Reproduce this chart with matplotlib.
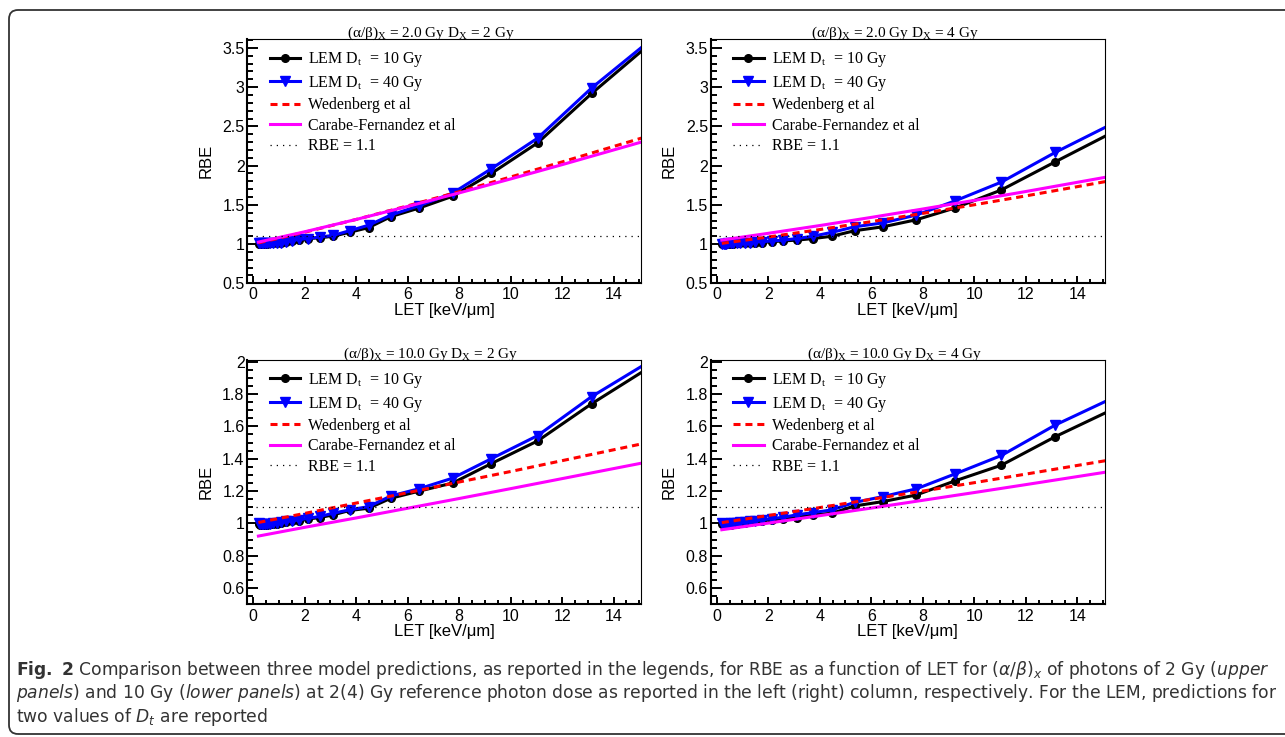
import matplotlib
matplotlib.use("Agg")
import matplotlib.pyplot as plt
from matplotlib.patches import FancyBboxPatch
from matplotlib.transforms import IdentityTransform
from matplotlib.ticker import MultipleLocator, FuncFormatter

# LET grid of the LEM calculations [keV/um]
lem_let = [0.22, 0.27, 0.32, 0.38, 0.45, 0.54, 0.65, 0.77, 0.92, 1.09, 1.29, 1.5, 1.76,
           2.13, 2.58, 3.1, 3.74, 4.48, 5.35, 6.45, 7.75, 9.25, 11.05, 13.15, 15.7]
# LET points for the phenomenological models
model_let = [0.2, 2, 4, 6, 8, 10, 12, 15.1]

# panels: TL, TR, BL, BR
panel_ab = [2.0, 2.0, 10.0, 10.0]
panel_dx = [2, 4, 2, 4]

lem_d10 = [
    [1.00, 1.00, 1.00, 1.00, 1.00, 1.00, 1.01, 1.01, 1.01, 1.02, 1.03, 1.04, 1.05,
     1.07, 1.08, 1.10, 1.15, 1.21, 1.35, 1.46, 1.61, 1.90, 2.29, 2.92, 3.63],
    [1.00, 1.00, 1.00, 1.00, 1.00, 1.00, 1.00, 1.01, 1.01, 1.01, 1.01, 1.02, 1.02,
     1.03, 1.04, 1.05, 1.07, 1.10, 1.17, 1.22, 1.31, 1.46, 1.69, 2.05, 2.48],
    [0.995, 0.993, 0.992, 0.992, 0.992, 0.993, 0.994, 0.996, 0.998, 1.000, 1.008, 1.012, 1.018,
     1.028, 1.036, 1.053, 1.080, 1.094, 1.156, 1.200, 1.250, 1.370, 1.510, 1.740, 1.995],
    [0.995, 0.993, 0.992, 0.992, 0.992, 0.993, 0.995, 0.997, 1.000, 1.003, 1.008, 1.012, 1.016,
     1.022, 1.028, 1.036, 1.053, 1.063, 1.108, 1.135, 1.176, 1.263, 1.360, 1.537, 1.730],
]
lem_d40 = [
    [1.01, 1.01, 1.01, 1.01, 1.01, 1.01, 1.01, 1.02, 1.02, 1.02, 1.03, 1.04, 1.06,
     1.07, 1.09, 1.11, 1.17, 1.24, 1.37, 1.49, 1.65, 1.96, 2.35, 2.99, 3.67],
    [1.00, 1.00, 1.00, 1.00, 1.01, 1.01, 1.01, 1.01, 1.01, 1.02, 1.02, 1.03, 1.03,
     1.04, 1.05, 1.07, 1.10, 1.15, 1.22, 1.27, 1.37, 1.55, 1.79, 2.17, 2.59],
    [1.000, 0.998, 0.997, 0.997, 0.997, 0.998, 0.999, 1.000, 1.002, 1.006, 1.012, 1.016, 1.022,
     1.032, 1.043, 1.063, 1.084, 1.104, 1.170, 1.215, 1.280, 1.400, 1.543, 1.784, 2.030],
    [1.000, 0.999, 0.998, 0.998, 0.999, 1.000, 1.002, 1.004, 1.007, 1.010, 1.014, 1.018, 1.022,
     1.030, 1.038, 1.053, 1.067, 1.084, 1.130, 1.166, 1.214, 1.306, 1.420, 1.609, 1.800],
]
wedenberg = [
    [1.015, 1.151, 1.314, 1.487, 1.668, 1.855, 2.047, 2.352],
    [1.009, 1.090, 1.185, 1.286, 1.391, 1.501, 1.614, 1.797],
    [1.006, 1.062, 1.126, 1.190, 1.256, 1.321, 1.388, 1.492],
    [1.005, 1.049, 1.098, 1.149, 1.200, 1.252, 1.305, 1.388],
]
carabe = [
    [1.025, 1.157, 1.314, 1.480, 1.652, 1.830, 2.012, 2.302],
    [1.051, 1.137, 1.236, 1.340, 1.447, 1.557, 1.670, 1.852],
    [0.922, 0.976, 1.034, 1.094, 1.154, 1.215, 1.277, 1.373],
    [0.961, 1.002, 1.048, 1.095, 1.143, 1.191, 1.240, 1.317],
]
rbe_ref = 1.1
ref_let = [0.1, 15.0]

caption = [
    r"$\mathbf{Fig.\ 2}$ Comparison between three model predictions, as reported in the legends, "
    r"for RBE as a function of LET for $\mathit{(α/β)_x}$ of photons of 2 Gy ($\mathit{upper}$",
    r"$\mathit{panels}$) and 10 Gy ($\mathit{lower\ panels}$) at 2(4) Gy reference photon dose as "
    r"reported in the left (right) column, respectively. For the LEM, predictions for",
    r"two values of $\mathit{D_t}$ are reported",
]

cap_font = "DejaVu Sans"
plt.rcParams["font.family"] = ["Liberation Sans", "DejaVu Sans"]
plt.rcParams["mathtext.fontset"] = "custom"
plt.rcParams["mathtext.rm"] = cap_font
plt.rcParams["mathtext.it"] = cap_font + ":italic"
plt.rcParams["mathtext.bf"] = cap_font + ":bold"
serif = ["Liberation Serif", "DejaVu Serif"]

fig = plt.figure(figsize=(12.85, 7.37), dpi=100)
rects = [[0.1925, 0.6156, 0.3064, 0.3311], [0.5531, 0.6156, 0.3068, 0.3311],
         [0.1925, 0.1800, 0.3064, 0.3315], [0.5531, 0.1800, 0.3068, 0.3315]]

for i, rect in enumerate(rects):
    ax = fig.add_axes(rect)
    ax.plot(lem_let, lem_d10[i], "-o", color="black", lw=2.2, ms=5.5,
            label=r"LEM D$_\mathregular{t}$  = 10 Gy")
    ax.plot(lem_let, lem_d40[i], "-v", color="blue", lw=2.2, ms=6.5,
            label=r"LEM D$_\mathregular{t}$  = 40 Gy")
    ax.plot(model_let, wedenberg[i], color="red", lw=2.2, ls=(0, (2.3, 1.6)),
            label="Wedenberg et al")
    ax.plot(model_let, carabe[i], color="magenta", lw=2.2, label="Carabe-Fernandez et al")
    ax.plot(ref_let, [rbe_ref, rbe_ref], color="black", lw=0.9, ls=(0, (1, 4)),
            label="RBE = 1.1")

    ax.set_xlim(-0.23, 15.07)
    if i < 2:
        ax.set_ylim(0.5, 3.61)
        ax.yaxis.set_major_locator(MultipleLocator(0.5))
        ax.yaxis.set_minor_locator(MultipleLocator(0.1))
    else:
        ax.set_ylim(0.5, 2.01)
        ax.yaxis.set_major_locator(MultipleLocator(0.2))
        ax.yaxis.set_minor_locator(MultipleLocator(0.05))
    ax.xaxis.set_major_locator(MultipleLocator(2))
    ax.xaxis.set_minor_locator(MultipleLocator(0.5))
    ax.yaxis.set_major_formatter(FuncFormatter(lambda v, p: "%g" % round(v, 3)))

    ax.tick_params(which="both", direction="in", top=False, right=False,
                   labelsize=11.5, width=1.4, colors="black")
    ax.tick_params(axis="x", which="major", length=4.8, pad=3)
    ax.tick_params(axis="x", which="minor", length=2.9)
    ax.tick_params(axis="y", which="major", length=8, pad=2)
    ax.tick_params(axis="y", which="minor", length=4.3)
    for s in ["left", "bottom"]:
        ax.spines[s].set_linewidth(1.5)
    for s in ["top", "right"]:
        ax.spines[s].set_linewidth(0.8)

    ax.set_ylabel("RBE", fontsize=12, va="center")
    ax.yaxis.set_label_coords(-0.105, 0.5)
    ax.set_xlabel("LET [keV/μm]", fontsize=12, va="center")
    ax.xaxis.set_label_coords(0.5, -0.112)

    ax.text(0.466, 1 + 2.6 / 244, "(α/β)$_\\mathregular{X}$ = %.1f Gy D$_\\mathregular{X}$ = %d Gy"
            % (panel_ab[i], panel_dx[i]), transform=ax.transAxes, ha="center", va="baseline",
            family=serif, fontsize=11)

    ax.legend(loc="upper left", bbox_to_anchor=(0.0577, 1 - 11 / 244), frameon=False,
              prop={"family": serif, "size": 11.5}, handlelength=1.88, handletextpad=0.52,
              labelspacing=0.28, borderpad=0, borderaxespad=0, numpoints=1)

# caption, sized so the first line spans the figure like in the original
cap_texts = []
for k, line in enumerate(caption):
    t = fig.text(16 / 1285, 1 - (675 + 23.3 * k) / 737, line, ha="left", va="baseline",
                 family=cap_font, fontsize=11, color="#333333")
    cap_texts.append(t)
renderer = fig.canvas.get_renderer()
w = cap_texts[0].get_window_extent(renderer).width
size = min(11 * 1250 / w, 13.2)
for t in cap_texts:
    t.set_fontsize(size)

box = FancyBboxPatch((9, 3), 1400, 724, boxstyle="round,pad=0,rounding_size=9",
                     transform=IdentityTransform(), fill=False, ec="#333333", lw=1.3)
fig.add_artist(box)

fig.savefig("out.png", dpi=100)
